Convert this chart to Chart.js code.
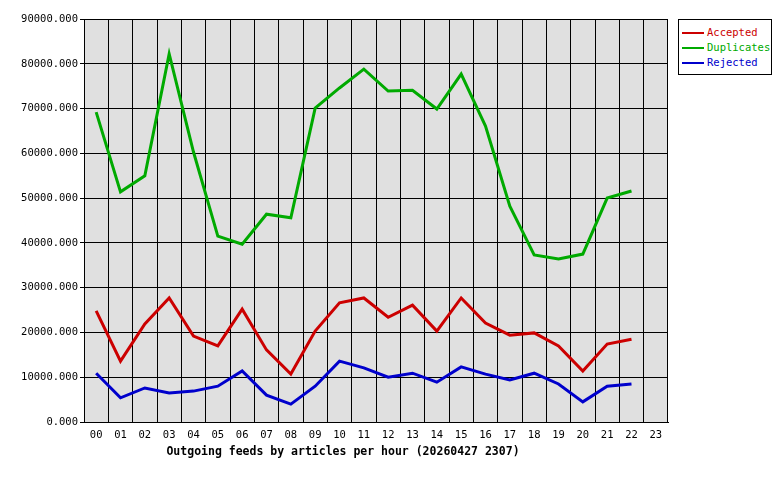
<!DOCTYPE html>
<html><head><meta charset="utf-8">
<script src="https://cdn.jsdelivr.net/npm/chart.js@4/dist/chart.umd.min.js"></script>
<style>
body{margin:0;background:#fff}
#wrap{position:relative;width:780px;height:480px}
#legend{position:absolute;left:678px;top:19px;width:94px;height:56px;border:1px solid #000;background:#fff;font:10.5px "DejaVu Sans Mono",monospace;box-sizing:border-box;padding:5px 0 0 3px}
#legend div{height:15px;line-height:15px;white-space:nowrap}
#legend span{display:inline-block;width:22px;height:2px;vertical-align:middle;margin-right:3px}
</style></head><body>
<div id="wrap"><canvas id="c" width="780" height="480"></canvas>
<div id="legend"></div></div>
<script>
var hours = ["00","01","02","03","04","05","06","07","08","09","10","11","12","13","14","15","16","17","18","19","20","21","22","23"];
var accepted = [24800,13600,21900,27700,19200,17000,25200,16100,10700,20300,26600,27700,23400,26100,20300,27700,22100,19400,19900,17000,11400,17400,18500,null];
var duplicates = [69200,51400,55000,82200,60300,41500,39700,46400,45600,70100,74600,78800,73900,74100,69900,77700,66100,48200,37300,36400,37500,50000,51600,null];
var rejected = [10900,5400,7600,6500,6900,8000,11400,6000,4000,8000,13600,12100,10000,10900,8900,12300,10700,9400,10900,8500,4500,8000,8500,null];
var yTicks = [0,10000,20000,30000,40000,50000,60000,70000,80000,90000];
var titleText = "Outgoing feeds by articles per hour (20260427 2307)";

var series = [
    {label:"Accepted", data:accepted, color:"#cc0000"},
    {label:"Duplicates", data:duplicates, color:"#00aa00"},
    {label:"Rejected", data:rejected, color:"#0000cc"}
];
var mono = '"DejaVu Sans Mono", monospace';

var legend = document.getElementById("legend");
series.forEach(function(s){
    var d = document.createElement("div");
    d.style.color = s.color;
    d.innerHTML = '<span style="background:'+s.color+'"></span>'+s.label;
    legend.appendChild(d);
});

var bgPlugin = {
    id:"plotBg",
    beforeDraw:function(chart){
        var a = chart.chartArea, ctx = chart.ctx;
        ctx.save();
        ctx.fillStyle = "#fff";
        ctx.fillRect(0,0,chart.width,chart.height);
        ctx.fillStyle = "#e0e0e0";
        ctx.fillRect(a.left,a.top,a.right-a.left,a.bottom-a.top);
        ctx.restore();
    },
    afterDraw:function(chart){
        var ctx = chart.ctx;
        ctx.save();
        ctx.fillStyle = "#000";
        ctx.font = "bold 11.5px " + mono;
        ctx.textAlign = "center";
        ctx.textBaseline = "middle";
        ctx.fillText(titleText, 343, 452);
        ctx.restore();
    }
};

new Chart(document.getElementById("c"), {
    type:"line",
    plugins:[bgPlugin],
    data:{
        labels:hours,
        datasets:series.map(function(s){
            return {label:s.label, data:s.data, borderColor:s.color, backgroundColor:s.color,
                borderWidth:3, pointRadius:0, tension:0, fill:false};
        })
    },
    options:{
        responsive:false,
        animation:false,
        layout:{padding:{left:0,right:112,top:19,bottom:0}},
        plugins:{legend:{display:false}, tooltip:{enabled:false}},
        scales:{
            x:{
                offset:true,
                grid:{offset:true, color:"#000", drawTicks:false},
                border:{color:"#000"},
                ticks:{color:"#000", font:{family:mono,size:10.5}, padding:7, maxRotation:0, autoSkip:false},
                afterFit:function(s){ s.height = 58; }
            },
            y:{
                min:0, max:90000,
                afterBuildTicks:function(s){ s.ticks = yTicks.map(function(v){return {value:v};}); },
                grid:{color:"#000", drawTicks:true, tickLength:4},
                border:{color:"#000"},
                ticks:{color:"#000", font:{family:mono,size:10.5}, padding:2,
                    callback:function(v){ return Number(v).toFixed(3); }},
                afterFit:function(s){ s.width = 84; }
            }
        }
    }
});
</script>
</body></html>
